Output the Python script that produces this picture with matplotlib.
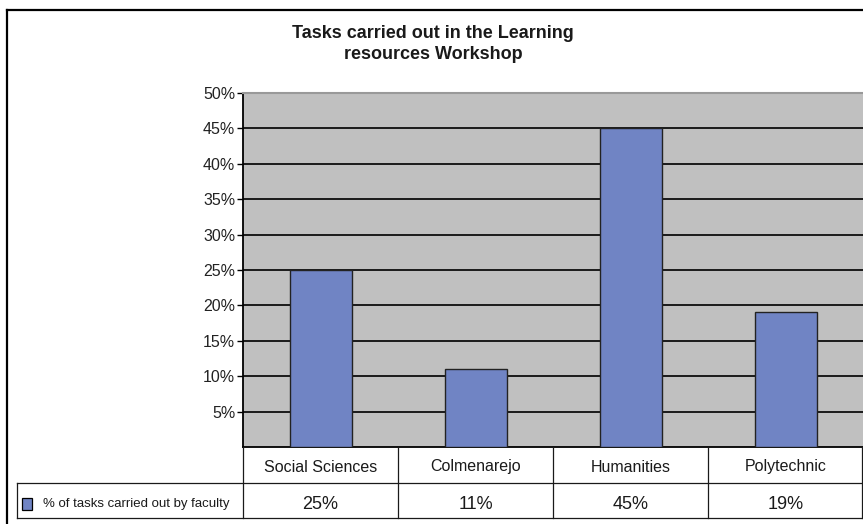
import matplotlib
matplotlib.use("Agg")
import matplotlib.pyplot as plt
from matplotlib.patches import Rectangle
from matplotlib.lines import Line2D

categories = ["Social Sciences", "Colmenarejo", "Humanities", "Polytechnic"]
values = [25, 11, 45, 19]
series_name = "% of tasks carried out by faculty"
yticks = [5, 10, 15, 20, 25, 30, 35, 40, 45, 50]
title_lines = ["Tasks carried out in the Learning", "resources Workshop"]

FONT = "Liberation Sans"
W, H = 863, 524
fig = plt.figure(figsize=(W / 100, H / 100), dpi=100)
fig.patch.set_facecolor("white")

def fx(x):
    return x / W

def fy(y):
    return 1 - y / H

left, right, top, bottom = 243, 863, 93, 447
ax = fig.add_axes([fx(left), fy(bottom), fx(right) - fx(left), fy(top) - fy(bottom)])
ax.set_facecolor("#C0C0C0")
x = list(range(len(categories)))
ax.bar(x, values, width=0.4, color="#7084C4", edgecolor="#222222", linewidth=1.0, zorder=3)
ax.set_xlim(-0.5, len(categories) - 0.5)
ax.set_ylim(0, 50)
ax.set_yticks(yticks)
ax.set_yticklabels([f"{t}%" for t in yticks], fontsize=11.5, color="#222222", family=FONT)
ax.set_xticks([])
ax.tick_params(axis="y", length=4, width=1, direction="out", pad=1.5)
for t in yticks[:-1]:
    ax.axhline(t, color="#1a1a1a", linewidth=1.4, zorder=2)
ax.spines["left"].set_linewidth(1.3)
ax.spines["bottom"].set_linewidth(1.3)
ax.spines["top"].set_color("#999999")
ax.spines["top"].set_linewidth(1.5)
ax.spines["right"].set_visible(False)

# title
for line, base in zip(title_lines, [38, 59]):
    fig.text(fx(433), fy(base), line, ha="center", va="baseline", fontsize=13,
             fontweight="bold", family=FONT, color="#1a1a1a")

# outer frame
fig.add_artist(Line2D([fx(7), fx(863)], [fy(10), fy(10)], color="black", lw=1.6))
fig.add_artist(Line2D([fx(7), fx(7)], [fy(10), fy(524)], color="black", lw=1.6))

# table
col_w = (right - left) / len(categories)
r1t, r1b, r2b = 447, 483, 518
lc = "#1a1a1a"
for i, (c, v) in enumerate(zip(categories, values)):
    x0 = left + i * col_w
    x1 = x0 + col_w
    fig.add_artist(Line2D([fx(x0), fx(x0)], [fy(r1t), fy(r2b)], color=lc, lw=0.9))
    fig.text(fx((x0 + x1) / 2), fy(471.5), c, ha="center", va="baseline",
             fontsize=11.5, family=FONT, color="#1a1a1a")
    fig.text(fx((x0 + x1) / 2), fy(509), f"{v}%", ha="center", va="baseline",
             fontsize=13, family=FONT, color="#1a1a1a")
fig.add_artist(Line2D([fx(862), fx(862)], [fy(r1t), fy(r2b)], color=lc, lw=0.9))
fig.add_artist(Line2D([fx(17), fx(863)], [fy(r1b), fy(r1b)], color=lc, lw=0.9))
fig.add_artist(Line2D([fx(17), fx(863)], [fy(r2b), fy(r2b)], color=lc, lw=0.9))
fig.add_artist(Line2D([fx(17), fx(17)], [fy(r1b), fy(r2b)], color=lc, lw=0.9))
# legend cell
fig.add_artist(Rectangle((fx(22), fy(510)), fx(10), fy(498) - fy(510), transform=fig.transFigure,
                         facecolor="#7084C4", edgecolor="black", lw=0.9))
fig.text(fx(43), fy(506.5), series_name, ha="left", va="baseline",
         fontsize=9.5, family=FONT, color="#1a1a1a")

fig.savefig("out.png", dpi=100)
